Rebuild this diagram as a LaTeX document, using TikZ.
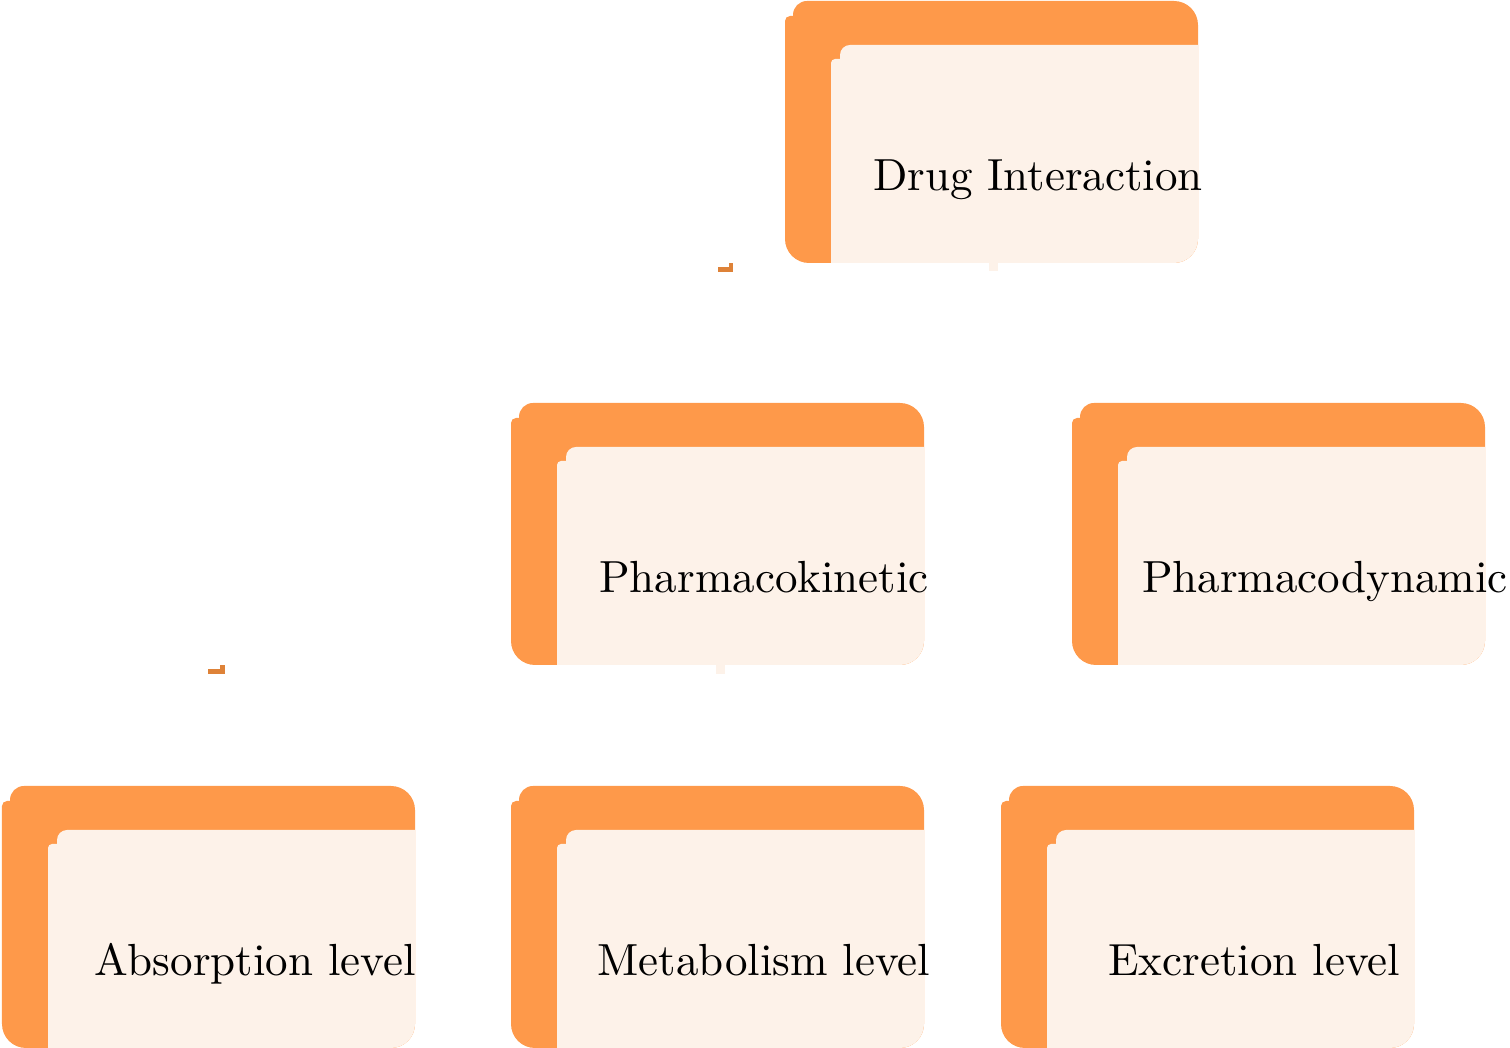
\documentclass[tikz,border=0pt]{standalone}
\definecolor{boxorange}{RGB}{254,153,74}
\definecolor{boxcream}{RGB}{253,242,233}
\definecolor{markorange}{RGB}{222,130,56}
\begin{document}
\newcommand\mybox[4]{%
\begin{scope}[shift={(#1,1048-#2)}]
  \fill[boxorange] (8,-131) -- (8,-14) arc[start angle=180,end angle=90,radius=14]
     -- (389,0) arc[start angle=90,end angle=0,radius=24]
     -- (413,-238) arc[start angle=0,end angle=-90,radius=24]
     -- (32,-262) arc[start angle=270,end angle=180,radius=24] -- cycle;
  \fill[boxorange] (100,-15) -- (5,-15) arc[start angle=90,end angle=180,radius=5]
     -- (0,-238) arc[start angle=180,end angle=270,radius=24]
     -- (100,-262) -- cycle;
  \fill[boxcream] (55,-150) -- (55,-54) arc[start angle=180,end angle=90,radius=10]
     -- (413,-44) -- (413,-238) arc[start angle=0,end angle=-90,radius=24]
     -- (55,-262) -- cycle;
  \fill[boxcream] (46,-62) arc[start angle=180,end angle=90,radius=4]
     -- (120,-58) -- (120,-262) -- (46,-262) -- cycle;
  \node[lbl] (#3) at (253,-190) {#4};
\end{scope}}
\begin{tikzpicture}[x=0.22222pt,y=0.22222pt,
  lbl/.style={inner sep=0pt,anchor=base,font=\normalsize}]
\useasboundingbox (0,0) rectangle (1510,1048);
\mybox{785}{1}{drug}{Drug Interaction}
\mybox{511}{403}{pk}{Pharmacokinetic}
\mybox{1072}{403}{pd}{Pharmacodynamic}
\mybox{2}{786}{abs}{Absorption level}
\mybox{511}{786}{met}{Metabolism level}
\mybox{1001}{786}{exc}{Excretion level}
% small leftover marks
\fill[markorange] (718,776) rectangle (733,781.3);
\fill[markorange] (729,776) rectangle (733,785);
\fill[boxcream] (989,777) rectangle (998,785);
\fill[markorange] (208,374) rectangle (225,379);
\fill[markorange] (220,374) rectangle (225,383);
\fill[boxcream] (716,374) rectangle (725,383);
\end{tikzpicture}
\end{document}
